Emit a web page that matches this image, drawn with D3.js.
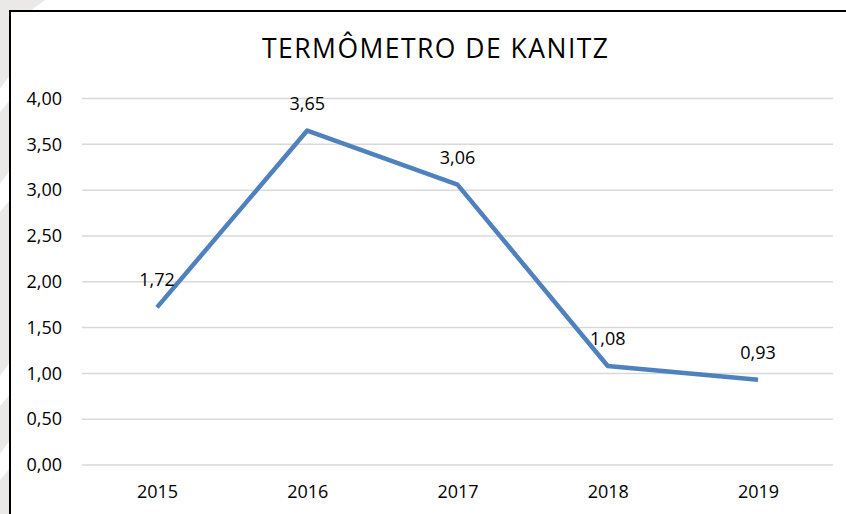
<!DOCTYPE html>
<html>
<head>
<meta charset="utf-8">
<script src="https://cdn.jsdelivr.net/npm/d3@7"></script>
<style>
html,body{margin:0;padding:0;background:#fff;overflow:hidden;}
svg{display:block;}
text{font-family:"Open Sans",sans-serif;fill:#000;}
</style>
</head>
<body>
<svg id="chart" width="846" height="514"></svg>
<script>
const title = "TERMÔMETRO DE KANITZ";
const years = ["2015","2016","2017","2018","2019"];
const values = [1.72, 3.65, 3.06, 1.08, 0.93];
const yTicks = [0,0.5,1,1.5,2,2.5,3,3.5,4];

const svg = d3.select("#chart");
const W = 846, H = 514;

// faint watermark strip at the left edge
svg.append("rect").attr("x",0).attr("y",0).attr("width",10).attr("height",H).attr("fill","#ebe8e8");
svg.append("path").attr("d","M0,0 L45,0 L30,11 L0,11 Z").attr("fill","#ebe8e8");
[[75,100],[170,200],[362,394],[440,468]].forEach(([a,b])=>{
  svg.append("path").attr("d",`M10,${a} L10,${b} L0,${b+12} L0,${a+14} Z`).attr("fill","#ffffff");
});

// chart frame (right and bottom edges fall outside the picture)
svg.append("rect").attr("x",10).attr("y",11).attr("width",W+100).attr("height",H+100)
  .attr("fill","#fff").attr("stroke","#000").attr("stroke-width",2);

const x = d3.scalePoint().domain(years).range([157,758]);
const y = d3.scaleLinear().domain([0,4]).range([465,98.5]);

// gridlines
svg.append("g").selectAll("line").data(yTicks).join("line")
  .attr("x1",82).attr("x2",833)
  .attr("y1",d=>y(d)).attr("y2",d=>y(d))
  .attr("stroke","#d9d9d9").attr("stroke-width",1.5);

const fmt = d => d3.format(".2f")(d).replace(".",",");

// y axis
const yAxis = d3.axisLeft(y).tickValues(yTicks).tickFormat(fmt).tickSize(0).tickPadding(0);
const gy = svg.append("g").attr("transform","translate(62,0)").call(yAxis);
gy.select(".domain").remove();
gy.selectAll("text").style("font-family","'Open Sans',sans-serif").style("font-size","18px").attr("fill","#000");

// x axis
const xAxis = d3.axisBottom(x).tickSize(0).tickPadding(0);
const gx = svg.append("g").attr("transform","translate(0,485)").call(xAxis);
gx.select(".domain").remove();
gx.selectAll("text").style("font-family","'Open Sans',sans-serif").style("font-size","18px").attr("fill","#000");

// line
const line = d3.line().x((d,i)=>x(years[i])).y(d=>y(d));
svg.append("path").datum(values).attr("d",line)
  .attr("fill","none").attr("stroke","#4f81bd").attr("stroke-width",4.5)
  .attr("stroke-linejoin","round").attr("stroke-linecap","butt");

// data labels
svg.append("g").selectAll("text").data(values).join("text")
  .attr("x",(d,i)=>x(years[i])).attr("y",d=>y(d)-28)
  .attr("text-anchor","middle").attr("dominant-baseline","central")
  .style("font-size","18px").text(fmt);

// title
svg.append("text").attr("x",435).attr("y",58).attr("text-anchor","middle")
  .attr("textLength",346).attr("lengthAdjust","spacing")
  .style("font-size","26.5px").text(title);
</script>
</body>
</html>
